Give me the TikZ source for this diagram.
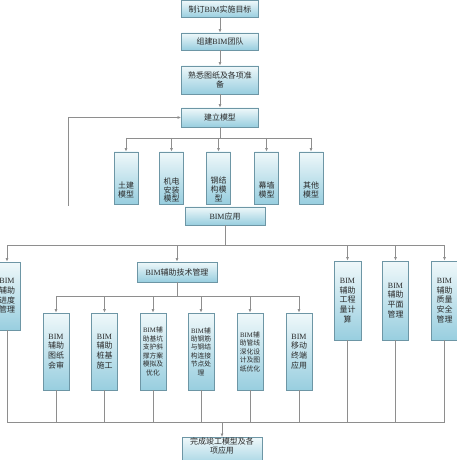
\documentclass[tikz,border=0pt]{standalone}
\usepackage{fontspec}
\setmainfont{Noto Sans CJK SC}
\newfontfamily\latinserif{Liberation Serif}
\newcommand\bim{{\latinserif BIM}}
\usetikzlibrary{arrows.meta}
\definecolor{boxtop}{HTML}{EFF8FA}
\definecolor{boxbot}{HTML}{98CEDF}
\definecolor{boxline}{HTML}{6D96A5}
\definecolor{connc}{HTML}{8E8E8E}
\definecolor{txtc}{HTML}{2A2A2A}
\begin{document}
\begin{tikzpicture}[x=1bp,y=-1bp,
  box/.style={draw=boxline, line width=0.8bp, top color=boxtop, bottom color=boxbot,
    inner sep=0pt, align=center, text=txtc, font=\fontsize{8}{9.5}\selectfont},
  wide/.style={box, minimum width=77bp},
  tall/.style={box, minimum width=26bp, font=\fontsize{8}{9.8}\selectfont},
  small/.style={box, minimum width=26bp, font=\fontsize{6.8}{8.5}\selectfont},
  txt/.style={inner sep=0pt, align=center, text=txtc, font=\fontsize{8}{9}\selectfont},
  conn/.style={draw=connc, line width=0.9bp},
  arr/.style={conn, -{Latex[length=3.5bp,width=3bp]}}
]
\useasboundingbox (0,0) rectangle (457,460);
\fill[white] (0,0) rectangle (457,460);

% top chain
\node[wide, minimum height=17bp] (t1) at (220,9) {制订\bim 实施目标};
\node[wide, minimum height=17bp] (t2) at (220,41.5) {组建\bim 团队};
\node[wide, minimum height=28bp] (t3) at (220,80) {熟悉图纸及各项准\\备};
\node[wide, minimum height=19bp] (t4) at (220,117.5) {建立模型};
\draw[arr] (t1) -- (t2);
\draw[arr] (t2) -- (t3);
\draw[arr] (t3) -- (t4);

% feedback line
\coordinate (fb) at (68,206);
\draw[arr] (fb) |- (t4.west);

% models
\coordinate (mb) at (220,138);
\foreach \i/\x in {1/126,2/171.5,3/218.5,4/266.5,5/311}{
  \node[box, minimum width=24bp, minimum height=52bp] (m\i) at (\x,178) {};
}
\node[txt] (mt1) at (126,190) {土建\\模型};
\node[txt] (mt2) at (171.5,190) {机电\\安装\\模型};
\node[txt] (mt3) at (218.5,189) {钢结\\构模\\型};
\node[txt] (mt4) at (266.5,190) {幕墙\\模型};
\node[txt] (mt5) at (311,190) {其他\\模型};
\draw[conn] (t4.south) -- (mb);
\draw[conn] (m1.north |- mb) -- (m5.north |- mb);
\foreach \i in {1,...,5}{ \draw[arr] (m\i.north |- mb) -- (m\i.north); }

% BIM application
\node[box, minimum width=80bp, minimum height=18bp] (app) at (225,216) {\bim 应用};
\coordinate (b2) at (225,245);
\draw[conn] (app.south) -- (b2);

% level 2
\node[tall, minimum height=68bp] (p1) at (7,296) {\bim\\辅助\\进度\\管理};
\node[box, minimum width=80bp, minimum height=20bp] (p2) at (177,272) {\bim 辅助技术管理};
\node[tall, minimum width=27bp, minimum height=79bp] (p3) at (347.5,300.5) {\bim\\辅助\\工程\\量计\\算};
\node[tall, minimum height=79bp] (p4) at (395.5,300.5) {\bim\\辅助\\平面\\管理};
\node[tall, minimum height=79bp] (p5) at (444.5,300.5) {\bim\\辅助\\质量\\安全\\管理};
\draw[conn] (p1.north |- b2) -- (p5.north |- b2);
\foreach \n in {p1,p2,p3,p4,p5}{ \draw[arr] (\n.north |- b2) -- (\n.north); }

% level 3
\coordinate (b3) at (177,296);
\draw[conn] (p2.south) -- (b3);
\node[tall, minimum height=77bp] (q1) at (56,351.5) {\bim\\辅助\\图纸\\会审};
\node[tall, minimum height=77bp] (q2) at (104.5,351.5) {\bim\\辅助\\桩基\\施工};
\node[small, minimum height=77bp] (q3) at (153,351.5) {\bim 辅\\助基坑\\支护斜\\撑方案\\模拟及\\优化};
\node[small, minimum height=77bp] (q4) at (201,351.5) {\bim 辅\\助钢筋\\与钢结\\构连接\\节点处\\理};
\node[small, minimum height=77bp] (q5) at (250,351.5) {\bim 辅\\助管线\\深化设\\计及图\\纸优化};
\node[tall, minimum height=77bp] (q6) at (299,351.5) {\bim\\移动\\终端\\应用};
\draw[conn] (q1.north |- b3) -- (q6.north |- b3);
\foreach \n in {q1,q2,q3,q4,q5,q6}{ \draw[arr] (\n.north |- b3) -- (\n.north); }

% bottom collection
\coordinate (b4) at (222,422);
\draw[conn] (p1.south |- b4) -- (p5.south |- b4);
\foreach \n in {p1,q1,q2,q3,q4,q5,q6,p3,p4,p5}{ \draw[conn] (\n.south) -- (\n.south |- b4); }
\node[wide, minimum width=80bp, minimum height=32bp, anchor=north] (f) at (222,437) {完成竣工模型及各\\项应用\\[6bp]};
\draw[arr] (b4) -- (f.north);
\end{tikzpicture}
\end{document}
